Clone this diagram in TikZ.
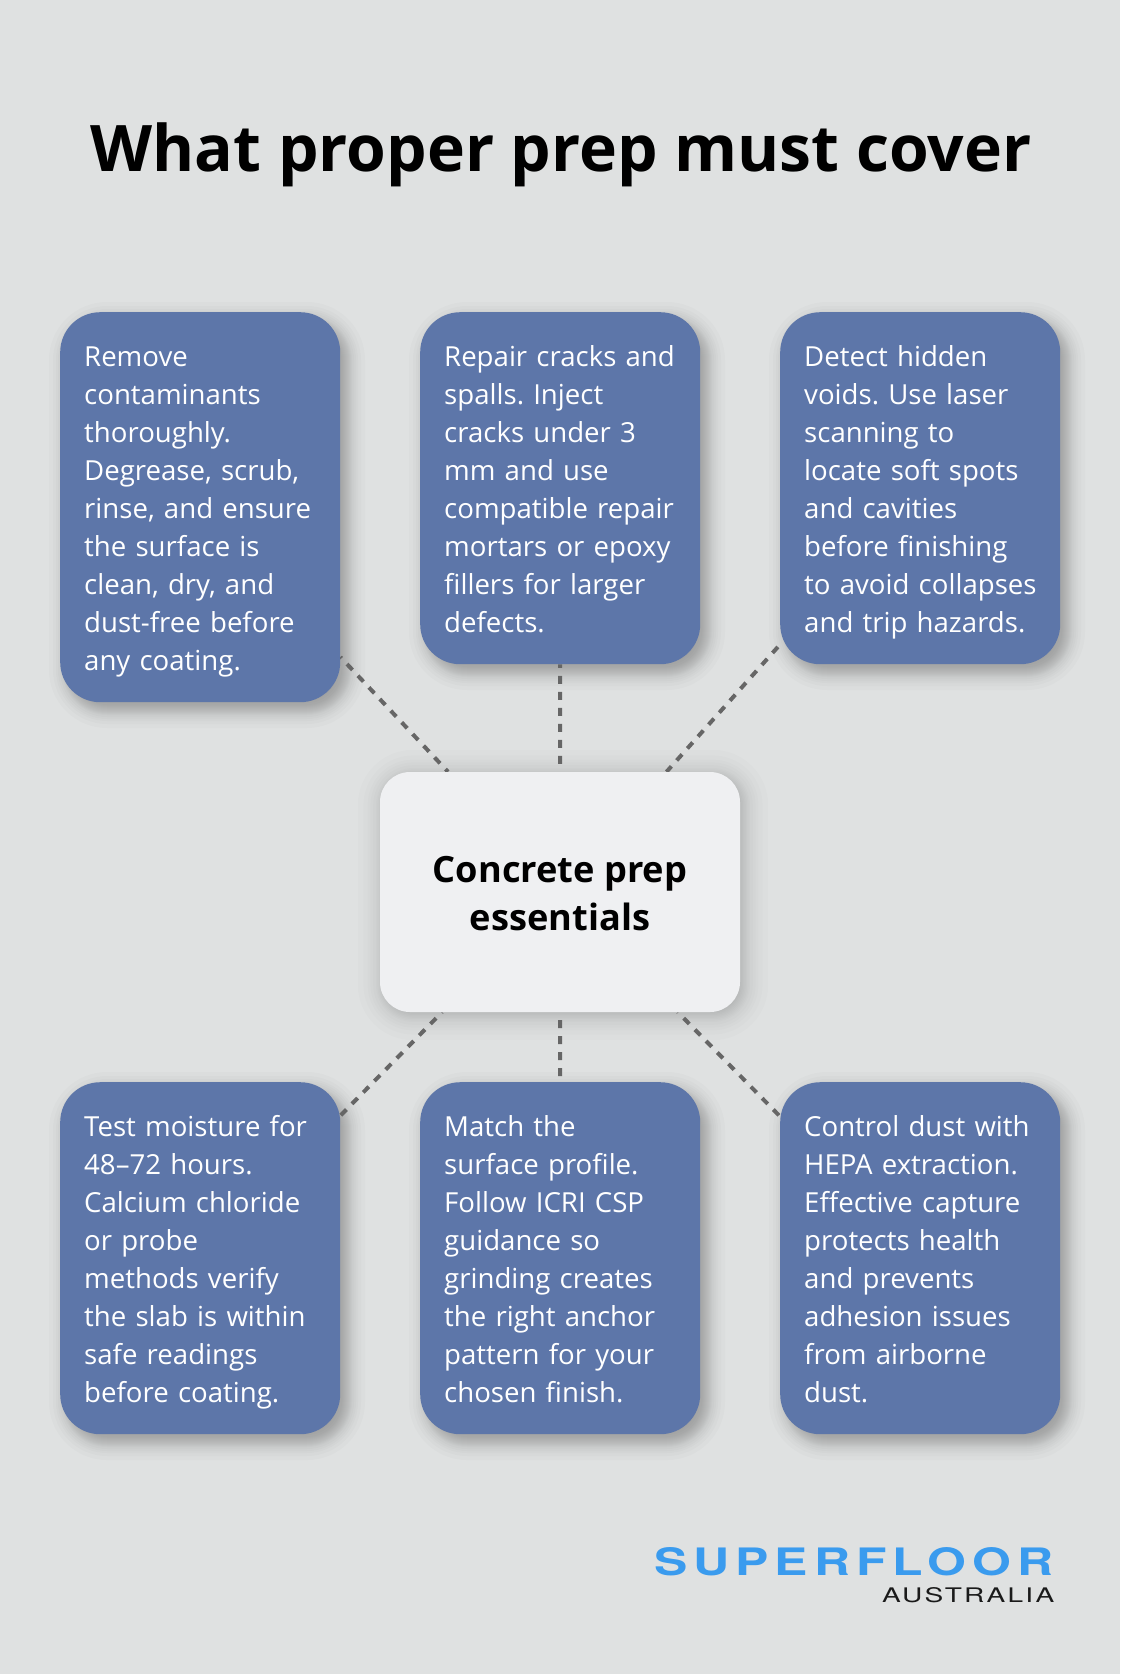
\documentclass[tikz,border=0pt]{standalone}
\usepackage{fontspec}
\usepackage{graphicx}
\setmainfont{Open Sans}
\newfontfamily\logofont{TeX Gyre Heros}
\usetikzlibrary{calc}
\definecolor{pagebg}{HTML}{DFE1E1}
\definecolor{cardblue}{HTML}{5D76A9}
\definecolor{hubfill}{HTML}{EFF0F2}
\definecolor{linkgrey}{HTML}{666666}
\definecolor{logoblue}{HTML}{3A9BEE}
\definecolor{logodark}{HTML}{1A1A1A}
\pgfdeclarelayer{under}
\pgfdeclarelayer{links}
\pgfsetlayers{under,links,main}
\AtBeginDocument{\frenchspacing\hyphenpenalty=10000\relax}
\newcommand{\bstrut}{\vrule height 30pt depth 8pt width 0pt\relax}
% x1 y1 x2 y2 radius offset-x offset-y spread opacity
\newcommand{\softshadow}[9]{%
  \foreach \s in {-18,-14,-11,-9,-7,-5,-4,-3,-2,-1,0,1,2,3,4,5,7,9,11,14,18}{%
    \pgfmathsetmacro{\d}{\s*#8}%
    \pgfmathsetmacro{\rr}{max(#5+\d,1)}%
    \fill[black,opacity=#9,rounded corners=\rr pt]
      ({#1-\d+#6},{#2-\d+#7}) rectangle ({#3+\d+#6},{#4+\d+#7});
  }%
}
\tikzset{
  card/.style={draw=none,fill=cardblue,text=white,rounded corners=40pt,
    inner xsep=24pt,inner ysep=0pt,text width=232pt,align=left,
    font=\fontsize{27.6}{38}\selectfont,anchor=north west},
  hub/.style={fill=hubfill,text=black,rounded corners=30pt,
    minimum width=360pt,minimum height=240pt,inner sep=0pt,align=center,
    font=\fontsize{36.2}{47.5}\selectfont\bfseries},
  link/.style={draw=linkgrey,line width=4pt,dash pattern=on 8pt off 8pt},
  titletext/.style={inner sep=0pt,font=\fontsize{64.2}{76}\selectfont\bfseries,text=black}
}
\begin{document}
\begin{tikzpicture}[x=1pt,y=-1pt]
\useasboundingbox (0,0) rectangle (1120,1674);
\begin{pgfonlayer}{under}
  \fill[pagebg] (0,0) rectangle (1120,1674);
  \softshadow{60}{312}{340}{702}{40}{7}{8}{1}{0.017}
  \softshadow{420}{312}{700}{664}{40}{7}{8}{1}{0.017}
  \softshadow{780}{312}{1060}{664}{40}{7}{8}{1}{0.017}
  \softshadow{380}{772}{740}{1012}{30}{3}{3}{1.4}{0.012}
  \softshadow{60}{1082}{340}{1434}{40}{7}{8}{1}{0.017}
  \softshadow{420}{1082}{700}{1434}{40}{7}{8}{1}{0.017}
  \softshadow{780}{1082}{1060}{1434}{40}{7}{8}{1}{0.017}
\end{pgfonlayer}

\node[titletext] (title) at (561,154.5) {What proper prep must cover};

\node[card,minimum width=280pt,minimum height=390pt] (b1) at (60,312) {\bstrut Remove\\contaminants\\thoroughly.\\Degrease, scrub,\\rinse, and ensure\\the surface is\\clean, dry, and\\dust-free before\\\bstrut any coating.};
\node[card,minimum width=280pt,minimum height=352pt] (b2) at (420,312) {\bstrut Repair cracks and\\spalls. Inject\\cracks under 3\\mm and use\\compatible repair\\mortars or epoxy\\fillers for larger\\\bstrut defects.};
\node[card,minimum width=280pt,minimum height=352pt] (b3) at (780,312) {\bstrut Detect hidden\\voids. Use laser\\scanning to\\locate soft spots\\and cavities\\before finishing\\\mbox{to avoid collapses}\\\bstrut and trip hazards.};
\node[hub] (c) at (560,892) {\vrule height 29.5pt depth 0pt width 0pt\relax Concrete prep\\essentials};
\node[card,minimum width=280pt,minimum height=352pt] (b4) at (60,1082) {\bstrut Test moisture for\\48–72 hours.\\Calcium chloride\\or probe\\methods verify\\the slab is within\\safe readings\\\bstrut before coating.};
\node[card,minimum width=280pt,minimum height=352pt] (b5) at (420,1082) {\bstrut Match the\\surface profile.\\Follow ICRI CSP\\guidance so\\grinding creates\\the right anchor\\pattern for your\\\bstrut chosen finish.};
\node[card,minimum width=280pt,minimum height=352pt] (b6) at (780,1082) {\bstrut Control dust with\\HEPA extraction.\\Effective capture\\protects health\\and prevents\\adhesion issues\\from airborne\\\bstrut dust.};

\begin{pgfonlayer}{links}
  \draw[link,dash phase=4.3pt] (c) -- (b1);
  \draw[link,dash phase=8pt] (c) -- (b2);
  \draw[link,dash phase=0.7pt] (c) -- (b3);
  \draw[link,dash phase=7.6pt] (c) -- (b4);
  \draw[link,dash phase=8pt] (c) -- (b5);
  \draw[link,dash phase=7.6pt] (c) -- (b6);
\end{pgfonlayer}

\node[inner sep=0pt,anchor=north west,text=logoblue] (logo) at (654,1547)
  {\resizebox{399pt}{28pt}{\logofont\addfontfeatures{LetterSpace=12}\bfseries SUPERFLOOR}};
\node[inner sep=0pt,anchor=north west,text=logodark] (logosub) at (882,1587)
  {\resizebox{172pt}{15pt}{\logofont\addfontfeatures{LetterSpace=8}AUSTRALIA}};
\end{tikzpicture}
\end{document}
